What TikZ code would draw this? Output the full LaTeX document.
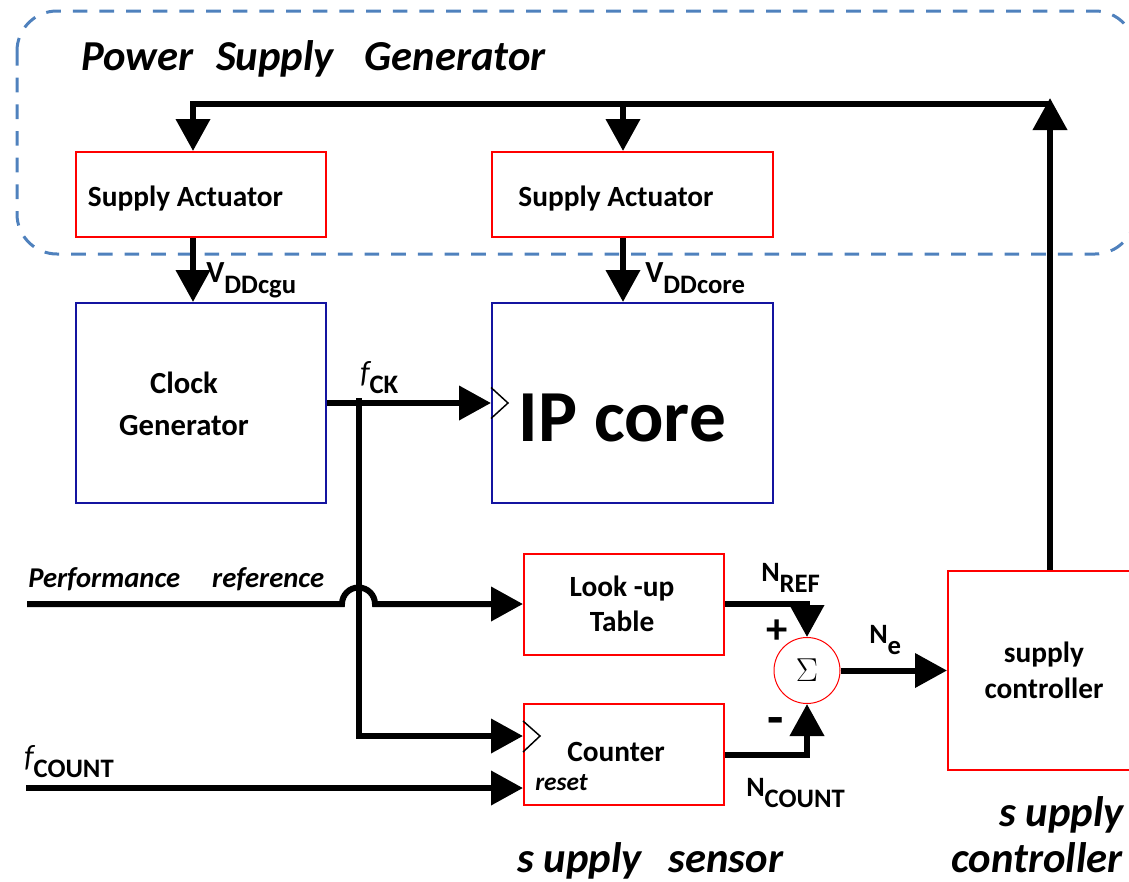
\documentclass[tikz,border=0pt]{standalone}
\usepackage{fontspec}
\setmainfont{Carlito}
\usetikzlibrary{arrows.meta,calc}

\definecolor{grpblue}{RGB}{79,129,189}
\definecolor{blkblue}{RGB}{20,20,160}

% letter with a lowered index, e.g. V_DDcgu
\newcommand{\sublbl}[2]{#1\raisebox{-8.5pt}{\fontsize{20}{22}\selectfont #2}}

\tikzset{
  redbox/.style={draw=red, line width=1.5pt, inner sep=0pt},
  bluebox/.style={draw=blkblue, line width=1.5pt, inner sep=0pt},
  wire/.style={line width=4.5pt},
  flow/.style={wire, -{Triangle[length=24pt,width=25pt]}},
  txt/.style={inner sep=0pt, font=\fontsize{22}{27}\selectfont\bfseries},
  sig/.style={inner sep=0pt, anchor=base west, font=\fontsize{21}{24}\selectfont\bfseries},
  caption/.style={inner sep=0pt, anchor=base west, font=\fontsize{32}{38}\selectfont\bfseries\itshape},
}

\begin{document}
\begin{tikzpicture}[x=0.75pt,y=0.75pt,yscale=-1,xscale=1]
	\useasboundingbox (0,0) rectangle (1129,882);
	\clip (0,0) rectangle (1129,882);
	
	%Rounded Rect [power supply generator]
	\draw [grpblue, line width=2.25pt, dash pattern={on 11pt off 9pt}, rounded corners=30pt] (17,11) rectangle (1135,254);
	
	%Blocks
	\node (act1) [redbox, minimum width=187.5pt, minimum height=63.75pt] at (201,194.5) {};
	\node (act2) [redbox, minimum width=210.75pt, minimum height=63.75pt] at (632.5,194.5) {};
	\node (clk) [bluebox, minimum width=187.5pt, minimum height=150pt] at (201,403) {};
	\node (ip) [bluebox, minimum width=210.75pt, minimum height=150pt] at (632.5,403) {};
	\node (lut) [redbox, minimum width=150pt, minimum height=75.75pt] at (624,604) {};
	\node (cnt) [redbox, minimum width=150pt, minimum height=75.75pt] at (624,754.5) {};
	\node (ctrl) [redbox, minimum width=144pt, minimum height=149.25pt] at (1044,670.5) {};
	\node (sum) [circle, draw=red, line width=0.75pt, minimum size=49.5pt, inner sep=0pt] at (807,670.5) {\fontsize{34}{34}\selectfont$\Sigma$};
	
	%Clock inputs
	\draw [line width=1.1pt] ($(ip.west)+(0,-15.5)$) -- ($(ip.west)+(17,0)$) -- ($(ip.west)+(0,15.5)$);
	\draw [line width=1.1pt] ($(cnt.north west)+(0,18)$) -- ($(cnt.north west)+(17,33)$) -- ($(cnt.north west)+(0,49)$);
	
	\coordinate (busL) at (193,104);
	\coordinate (busM) at (623,104);
	\coordinate (busR) at (1050,104);
	\coordinate (tap) at (359,398);
	\coordinate (cnt-clk) at ($(cnt.north west)+(0,33)$);
	\coordinate (perf) at (27,604);
	\coordinate (fcnt) at (26,788);
	
	%Feedback to the actuators
	\draw [flow] (busR |- ctrl.north) -- ($(busR)+(0,-6)$);
	\draw [flow] (busR) -- (busL) -- (busL |- act1.north);
	\draw [flow] (busM) -- (busM |- act2.north);
	\draw [flow] (busL |- act1.south) -- (busL |- clk.north);
	\draw [flow] (busM |- act2.south) -- (busM |- ip.north);
	
	%Clock and sensor paths
	\draw [flow] (clk.east) -- (ip.west);
	\draw [flow] (tap) |- (cnt-clk);
	\draw [flow] (perf) -- (342,604) arc [start angle=180, end angle=360, radius=16.5] -- (lut.west);
	\draw [flow] (fcnt) -- (fcnt -| cnt.west);
	\draw [flow] (lut.east) -| (sum.north);
	\draw [flow] (cnt.east) -| (sum.south);
	\draw [flow] (sum.east) -- (ctrl.west);
	
	% Text Node
	\node (title) [caption] at (81,70) {Power\hspace{17pt}Supply\hspace{23pt}Generator};
	% Text Node
	\node (act1-txt) [txt, anchor=base] at (185.5,206) {Supply Actuator};
	% Text Node
	\node (act2-txt) [txt, anchor=base] at (616,206) {Supply Actuator};
	% Text Node
	\node (clk-txt) [txt, align=center, font=\fontsize{23}{31.5}\selectfont\bfseries] at (184,404) {Clock\\Generator};
	% Text Node
	\node (ip-txt) [inner sep=0pt, anchor=base, font=\fontsize{55}{60}\selectfont\bfseries] at (622.5,441) {IP core};
	% Text Node
	\node (lut-txt) [txt, align=center, font=\fontsize{22}{26.25}\selectfont\bfseries] at (622,604) {Look -up\\Table};
	% Text Node
	\node (cnt-txt) [txt, anchor=base] at (616,761) {Counter};
	% Text Node
	\node (reset) [inner sep=0pt, anchor=base west, font=\fontsize{19}{22}\selectfont\bfseries\itshape] at (535,790) {reset};
	% Text Node
	\node (ctrl-txt) [txt, align=center, font=\fontsize{22}{27}\selectfont\bfseries] at (1044,670) {supply\\controller};
	
	% Text Node
	\node (vcgu) [sig, font=\fontsize{23}{24}\selectfont\bfseries] at (206,282) {\sublbl{V}{DDcgu}};
	% Text Node
	\node (vcore) [sig, font=\fontsize{23}{24}\selectfont\bfseries] at (645,282) {\sublbl{V}{DDcore}};
	% Text Node
	\node (fck) [sig, font=\fontsize{23}{24}\selectfont\bfseries] at (360,382) {\sublbl{{\mdseries\itshape f}}{CK}};
	% Text Node
	\node (fcount) [sig, font=\fontsize{23}{24}\selectfont\bfseries] at (24,766) {\sublbl{{\mdseries\itshape f}}{COUNT}};
	% Text Node
	\node (perf-txt) [inner sep=0pt, anchor=base west, font=\fontsize{21.5}{24}\selectfont\bfseries\itshape] at (28,587) {Performance\hspace{24pt}reference};
	% Text Node
	\node (nref) [sig] at (761,581) {\sublbl{N}{REF}};
	% Text Node
	\node (ncount) [sig] at (746,796) {\sublbl{N}{COUNT}};
	% Text Node
	\node (ne) [sig] at (869,643) {\sublbl{N}{e}};
	% Text Node
	\node (plus) [inner sep=0pt, font=\fontsize{32}{32}\selectfont\bfseries] at (777,632) {+};
	% Text Node
	\node (minus) [inner sep=0pt, font=\fontsize{40}{40}\selectfont\bfseries] at (776,727) {-};
	
	% Text Node
	\node (sensor-cap) [caption] at (517,872) {s upply\hspace{20pt}sensor};
	% Text Node
	\node (ctrl-cap1) [caption, anchor=base east] at (1124,826) {s upply};
	% Text Node
	\node (ctrl-cap2) [caption, anchor=base east] at (1123,872) {controller};
	
\end{tikzpicture}
\end{document}
